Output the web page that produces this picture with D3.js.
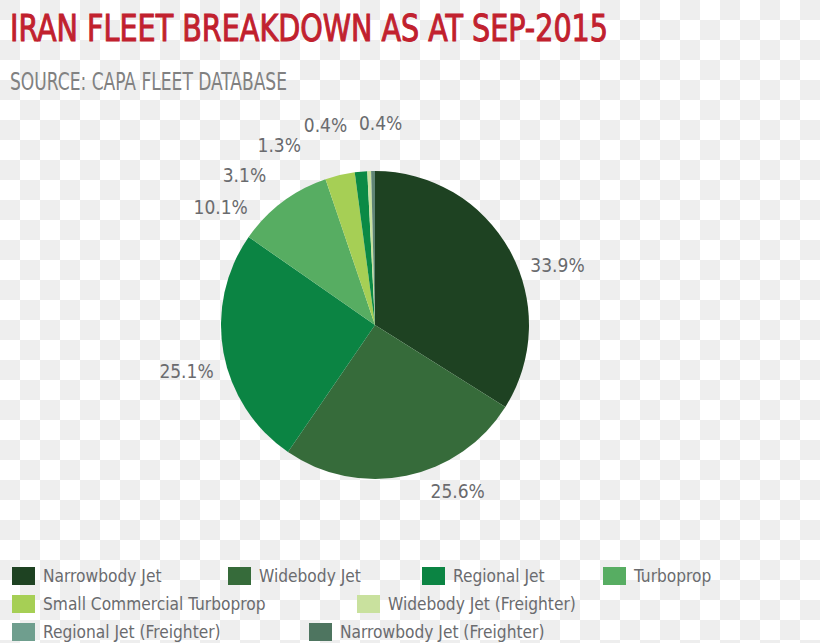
<!DOCTYPE html>
<html>
<head>
<meta charset="utf-8">
<script src="https://cdn.jsdelivr.net/npm/d3@7"></script>
<style>
  html, body { margin: 0; padding: 0; background: #fff; }
  svg { display: block; }
  text { font-family: "DejaVu Sans Condensed", "DejaVu Sans", sans-serif; font-stretch: condensed; }
</style>
</head>
<body>
<svg id="chart" width="820" height="643"></svg>
<script>
// ---- data ----
const title = "IRAN FLEET BREAKDOWN AS AT SEP-2015";
const subtitle = "SOURCE: CAPA FLEET DATABASE";
const categories = [
  "Narrowbody Jet", "Widebody Jet", "Regional Jet", "Turboprop",
  "Small Commercial Turboprop", "Widebody Jet (Freighter)",
  "Regional Jet (Freighter)", "Narrowbody Jet (Freighter)"
];
const values = [33.9, 25.6, 25.1, 10.1, 3.1, 1.3, 0.4, 0.4];
const valueLabels = ["33.9%", "25.6%", "25.1%", "10.1%", "3.1%", "1.3%", "0.4%", "0.4%"];

// ---- styles / layout ----
const legendColors = ["#1e4222", "#366b3a", "#0b8443", "#57ad62", "#a6cf55", "#c9e19e", "#6f9e8e", "#4e7560"];
const sliceColors  = ["#1e4222", "#366b3a", "#0b8443", "#57ad62", "#a6cf55", "#0b8a45", "#c9e19e", "#5f8576"];
// label placement: [angle in degrees clockwise from top, distance from centre]
const labelLayout = [[71.9, 192], [153.6, 186], [256.3, 194], [307.3, 194], [319, 199], [332, 204], [346.1, 206], [1.6, 202]];
// legend rows: [row index, x]
const legendLayout = [[0, 12], [0, 228], [0, 422], [0, 603], [1, 12], [1, 357], [2, 12], [2, 309]];
const legendRowY = [576, 604, 632];

const W = 820, H = 643;
const cx = 375, cy = 325, R = 154;

const svg = d3.select("#chart");

// checkerboard background
const defs = svg.append("defs");
const pat = defs.append("pattern").attr("id", "checker")
  .attr("width", 40).attr("height", 40).attr("patternUnits", "userSpaceOnUse");
pat.append("rect").attr("width", 40).attr("height", 40).attr("fill", "#ffffff");
pat.append("rect").attr("x", 0).attr("y", 0).attr("width", 20).attr("height", 20).attr("fill", "#eeeeee");
pat.append("rect").attr("x", 20).attr("y", 20).attr("width", 20).attr("height", 20).attr("fill", "#eeeeee");
svg.append("rect").attr("width", W).attr("height", H).attr("fill", "url(#checker)");

// title
svg.append("text")
  .attr("x", 10).attr("y", 41)
  .attr("font-size", 38)
  .attr("fill", "#c1212e")
  .attr("stroke", "#c1212e").attr("stroke-width", 1)
  .attr("textLength", 598).attr("lengthAdjust", "spacingAndGlyphs")
  .text(title);

svg.append("text")
  .attr("x", 10).attr("y", 90)
  .attr("font-size", 25)
  .attr("fill", "#818181")
  .attr("textLength", 277).attr("lengthAdjust", "spacingAndGlyphs")
  .text(subtitle);

// pie
const data = categories.map((c, i) => ({ name: c, value: values[i], label: valueLabels[i], i }));
const pie = d3.pie().value(d => d.value).sort(null);
const arc = d3.arc().innerRadius(0).outerRadius(R);
const arcs = pie(data);

const g = svg.append("g").attr("transform", `translate(${cx},${cy})`);
g.selectAll("path.slice").data(arcs).join("path")
  .attr("class", "slice")
  .attr("d", arc)
  .attr("fill", d => sliceColors[d.data.i]);

// labels
g.selectAll("text.lbl").data(arcs).join("text")
  .attr("class", "lbl")
  .attr("x", d => { const [a, r] = labelLayout[d.data.i]; return r * Math.sin(a * Math.PI / 180); })
  .attr("y", d => { const [a, r] = labelLayout[d.data.i]; return -r * Math.cos(a * Math.PI / 180); })
  .attr("dy", "0.36em")
  .attr("text-anchor", "middle")
  .attr("font-size", 19)
  .attr("fill", "#6a6b6e")
  .text(d => d.data.label);

// legend
const leg = svg.append("g");
const items = leg.selectAll("g.item").data(data).join("g")
  .attr("class", "item")
  .attr("transform", d => `translate(${legendLayout[d.i][1]},${legendRowY[legendLayout[d.i][0]]})`);
items.append("rect")
  .attr("x", 0).attr("y", -9).attr("width", 23).attr("height", 18)
  .attr("fill", d => legendColors[d.i]);
items.append("text")
  .attr("x", 31).attr("y", 0).attr("dy", "0.36em")
  .attr("font-size", 17.2)
  .attr("fill", "#6a6b6e")
  .text(d => d.name);
</script>
</body>
</html>
